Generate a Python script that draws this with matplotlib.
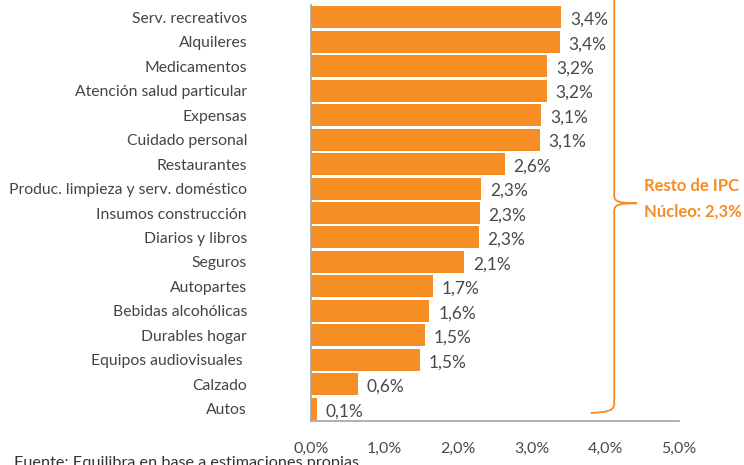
import matplotlib as mpl
mpl.use("Agg")
import matplotlib.pyplot as plt
from matplotlib.path import Path
from matplotlib.patches import PathPatch

plt.rcParams['font.family'] = ['Lato', 'DejaVu Sans']

rubros = ["Serv. recreativos", "Alquileres", "Medicamentos",
          "Atención salud particular", "Expensas", "Cuidado personal",
          "Restaurantes", "Produc. limpieza y serv. doméstico",
          "Insumos construcción", "Diarios y libros", "Seguros",
          "Autopartes", "Bebidas alcohólicas", "Durables hogar",
          "Equipos audiovisuales ", "Calzado", "Autos"]
valores = [3.40, 3.38, 3.21, 3.20, 3.13, 3.11, 2.63, 2.31, 2.29, 2.28,
           2.08, 1.66, 1.61, 1.55, 1.48, 0.64, 0.08]
etiquetas = ["3,4%", "3,4%", "3,2%", "3,2%", "3,1%", "3,1%", "2,6%", "2,3%",
             "2,3%", "2,3%", "2,1%", "1,7%", "1,6%", "1,5%", "1,5%", "0,6%",
             "0,1%"]
xticks = [0, 1, 2, 3, 4, 5]
xticklabels = ["0,0%", "1,0%", "2,0%", "3,0%", "4,0%", "5,0%"]

naranja = "#F58C24"
gris = "#9AA5A8"

fig = plt.figure(figsize=(7.44, 4.65), dpi=100)
ax = fig.add_axes([311 / 744, 1 - 421 / 465, 368 / 744, 416 / 465])

ypos = list(range(len(rubros)))
ax.barh(ypos, valores, height=0.9, color=naranja)
for y, v, t in zip(ypos, valores, etiquetas):
    ax.text(v + 0.12, y + 0.1, t, va="center", ha="left", fontsize=12.5,
            color="#4a4a4a")

ax.set_ylim(len(rubros) - 0.5, -0.5)
ax.set_xlim(0, 5)
ax.set_yticks(ypos)
ax.set_yticklabels(rubros, fontsize=11.3, color="#444444")
ax.set_xticks(xticks)
ax.set_xticklabels(xticklabels, fontsize=11.5, color="#4a4a4a")
ax.tick_params(axis="both", length=0)
ax.tick_params(axis="x", pad=15)
ax.tick_params(axis="y", pad=46)
for side in ["top", "right"]:
    ax.spines[side].set_visible(False)
for side in ["left", "bottom"]:
    ax.spines[side].set_color(gris)
    ax.spines[side].set_linewidth(1.2)

# llave
bx = 4.12
verts = [(3.80, 16.17), (4.00, 16.15), (bx, 16.1), (bx, 15.8),
         (bx, 7.9),
         (bx, 7.65), (4.2, 7.6), (4.43, 7.6),
         (4.2, 7.6), (bx, 7.55), (bx, 7.3),
         (bx, -0.8)]
codes = [Path.MOVETO, Path.CURVE4, Path.CURVE4, Path.CURVE4,
         Path.LINETO,
         Path.CURVE4, Path.CURVE4, Path.CURVE4,
         Path.CURVE4, Path.CURVE4, Path.CURVE4,
         Path.LINETO]
ax.add_patch(PathPatch(Path(verts, codes), fill=False, edgecolor=naranja,
                       lw=1.3, clip_on=False))
ax.text(4.52, 6.9, "Resto de IPC", color=naranja, fontsize=12,
        fontweight="bold", va="center", ha="left")
ax.text(4.52, 7.92, "Núcleo: 2,3%", color=naranja, fontsize=12,
        fontweight="bold", va="center", ha="left")

fig.text(14 / 744, 1 - 467 / 465, "Fuente: Equilibra en base a estimaciones propias",
         fontsize=11.7, color="#333333", ha="left", va="baseline")

fig.savefig("out.png")
